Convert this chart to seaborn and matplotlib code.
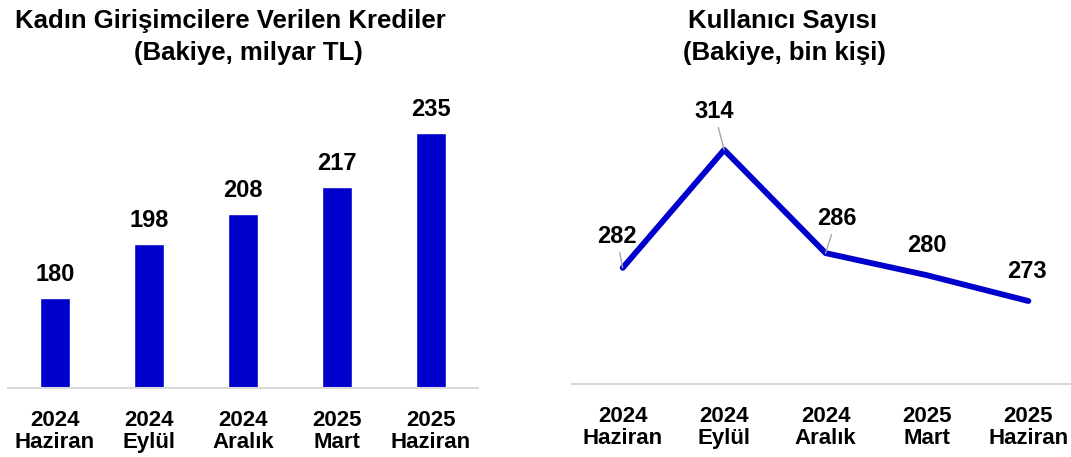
import matplotlib
matplotlib.use('Agg')
import matplotlib.pyplot as plt
import seaborn as sns

# data
periods = ['2024\nHaziran', '2024\nEylül', '2024\nAralık', '2025\nMart', '2025\nHaziran']
credits = [180, 198, 208, 217, 235]      # milyar TL
users = [282, 314, 286, 280, 273]        # bin kişi

sns.set_theme(style='white')
plt.rcParams['font.family'] = ['Liberation Sans', 'DejaVu Sans']
plt.rcParams['text.color'] = 'black'
plt.rcParams['xtick.color'] = 'black'

blue = '#0000CC'
fig = plt.figure(figsize=(10.71, 4.57), dpi=100)
W, H = 1071, 457

# left: bar chart
ax1 = fig.add_axes([8 / W, 69 / H, 470 / W, 300 / H])
sns.barplot(x=periods, y=credits, ax=ax1, color=blue, saturation=1, width=0.31)
ax1.set_xlim(-0.5, 4.5)
ax1.set_ylim(150, 250)
for i, v in enumerate(credits):
    ax1.annotate(f'{v}', (i, v), xytext=(0, 17), textcoords='offset pixels',
                 ha='center', va='baseline', fontsize=17, fontweight='bold')

# right: line chart
ax2 = fig.add_axes([572 / W, 73 / H, 499 / W, 295 / H])
xs = list(range(len(users)))
sns.lineplot(x=xs, y=users, ax=ax2, color=blue, linewidth=4.2)
ax2.lines[0].set_solid_joinstyle('round')
ax2.set_xlim(-0.5, 4.42)
ax2.set_ylim(250.5, 330.5)
ax2.set_xticks(xs)
ax2.set_xticklabels(periods)

label_offsets = [(-6, 25), (-10, 32), (11, 28), (0, 23), (-1, 23)]
leaders = [True, True, True, False, False]
for x, v, off, lead in zip(xs, users, label_offsets, leaders):
    arrow = dict(arrowstyle='-', color='#A6A6A6', lw=1, shrinkA=1, shrinkB=0) if lead else None
    ax2.annotate(f'{v}', (x, v), xytext=off, textcoords='offset pixels',
                 ha='center', va='baseline', fontsize=17, fontweight='bold',
                 color='black', arrowprops=arrow)

for ax in (ax1, ax2):
    for s in ('left', 'right', 'top'):
        ax.spines[s].set_visible(False)
    ax.spines['bottom'].set_color('#D9D9D9')
    ax.spines['bottom'].set_linewidth(1.5)
    ax.set_yticks([])
    ax.set_ylabel('')
    ax.tick_params(axis='x', length=0, pad=16, labelsize=16, labelcolor='black')
    for t in ax.get_xticklabels():
        t.set_fontweight('bold')
        t.set_linespacing(1.05)

# titles
fig.text(230 / W, 1 - 28 / H, 'Kadın Girişimcilere Verilen Krediler', ha='center',
         va='baseline', fontsize=18.5, fontweight='bold')
fig.text(248 / W, 1 - 60 / H, '(Bakiye, milyar TL)', ha='center',
         va='baseline', fontsize=18.5, fontweight='bold')
fig.text(782 / W, 1 - 28 / H, 'Kullanıcı Sayısı', ha='center',
         va='baseline', fontsize=18.5, fontweight='bold')
fig.text(784 / W, 1 - 60 / H, '(Bakiye, bin kişi)', ha='center',
         va='baseline', fontsize=18.5, fontweight='bold')

fig.savefig('out.png', dpi=100)
